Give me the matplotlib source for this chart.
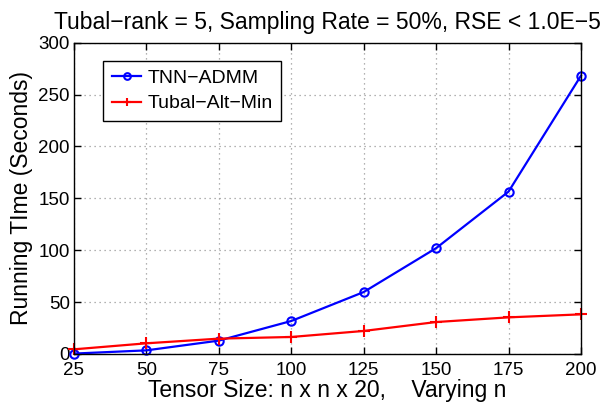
import numpy as np
import matplotlib
matplotlib.use('Agg')
import matplotlib.pyplot as plt

plt.rcParams['font.family'] = ['Liberation Sans', 'DejaVu Sans']

n_vals = [25, 50, 75, 100, 125, 150, 175, 200]
tnn_admm = [0.4, 3.5, 12.9, 31.8, 59.7, 102, 156.5, 268.2]
tubal_alt_min = [4.5, 10.3, 14.8, 16.4, 22.2, 30.8, 35.3, 38.2]
y_ticks = [0, 50, 100, 150, 200, 250, 300]

fig = plt.figure(figsize=(6.09, 4.03), dpi=100)
ax = fig.add_axes([0.1215, 0.1216, 0.8325, 0.7725])

ax.plot(n_vals, tnn_admm, color='#0000ff', lw=1.6, marker='o', ms=6,
        mfc='none', mec='#0000ff', mew=1.5, label='TNN\u2212ADMM', clip_on=False)
ax.plot(n_vals, tubal_alt_min, color='#ff0000', lw=1.6, marker='+', ms=8,
        mew=1.5, label='Tubal\u2212Alt\u2212Min', clip_on=False)

ax.set_xlim(25, 200)
ax.set_ylim(0, 300)
ax.set_xticks(n_vals)
ax.set_yticks(y_ticks)
ax.grid(True, linestyle=(0, (1, 3)), color='#999999', lw=0.9)
ax.tick_params(axis='both', direction='in', top=True, right=True,
               labelsize=13.5, length=5, width=1.0)
ax.tick_params(axis='x', pad=6)
ax.tick_params(axis='y', pad=3)
for s in ax.spines.values():
    s.set_linewidth(1.0)

ax.set_xlabel('Tensor Size: n x n x 20,    Varying n', fontsize=16.5, labelpad=0)
ax.set_ylabel('Running TIme (Seconds)', fontsize=16.5, labelpad=4)
ax.set_title('Tubal\u2212rank = 5, Sampling Rate = 50%, RSE < 1.0E\u22125', fontsize=16.5, pad=10)

leg = ax.legend(loc='upper left', bbox_to_anchor=(0.058, 0.942), borderaxespad=0,
                fontsize=14, fancybox=False, edgecolor='black', framealpha=1,
                handlelength=1.5, handletextpad=0.3, borderpad=0.45,
                labelspacing=0.4, markerscale=0.8)
leg.get_frame().set_linewidth(1.0)

fig.savefig('out.png', dpi=100)
